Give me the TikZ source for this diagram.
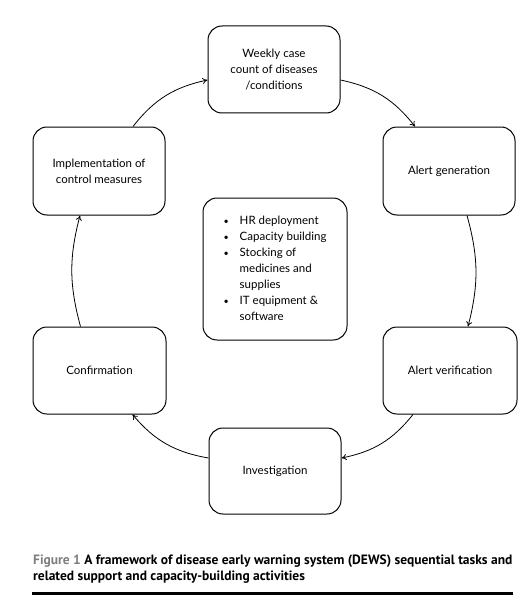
\documentclass[tikz,border=0pt]{standalone}
\usepackage{fontspec}
\setmainfont{Lato}
\newfontfamily\capfont{PT Sans}
\usetikzlibrary{arrows.meta}
\definecolor{figgray}{RGB}{125,125,125}
\begin{document}
\begin{tikzpicture}[x=1pt,y=-1pt,
  box/.style={draw, line width=1pt, rounded corners=14pt, align=center, inner sep=0pt,
    font=\fontsize{11.5}{16}\selectfont},
  link/.style={-{To[length=5pt,width=6pt]}, line width=0.8pt}]
\useasboundingbox (0,0) rectangle (526,599);
\node[box, minimum width=132pt, minimum height=87pt] (w) at (274,69.5) {Weekly case\\count of diseases\\/conditions};
\node[box, minimum width=132pt, minimum height=88pt] (ag) at (449,171) {Alert generation};
\node[box, minimum width=134pt, minimum height=87pt] (av) at (450,370.5) {Alert verification};
\node[box, minimum width=132pt, minimum height=86pt] (inv) at (275,471) {Investigation};
\node[box, minimum width=133pt, minimum height=87pt] (conf) at (99.5,370.5) {Confirmation};
\node[box, minimum width=132pt, minimum height=88pt] (impl) at (99,171) {Implementation of\\control measures};
\node[box, minimum width=144pt, minimum height=142pt, align=left] (c) at (275,269) {%
  \begin{tabular}{@{}l@{\hspace{11pt}}l@{}}
  {\small\textbullet} & HR deployment\\
  {\small\textbullet} & Capacity building\\
  {\small\textbullet} & Stocking of\\
   & medicines and\\
   & supplies\\
  {\small\textbullet} & IT equipment \&\\
   & software
  \end{tabular}};
\draw[link] ([xshift=34pt]impl.north) to[bend left=20] ([yshift=-10.5pt]w.west);
\draw[link] ([yshift=-10.5pt]w.east) to[bend left=20] ([xshift=-34pt]ag.north);
\draw[link] ([xshift=18pt]ag.south) to[bend left=15] ([xshift=18pt]av.north);
\draw[link] ([xshift=-37pt]av.south) to[bend left=20] ([yshift=13pt]inv.east);
\draw[link] ([yshift=13pt]inv.west) to[bend left=20] ([xshift=33pt]conf.south);
\draw[link] ([xshift=-19pt]conf.north) to[bend left=15] ([xshift=-19pt]impl.south);
\node[anchor=north west, inner sep=0pt, align=left, font=\capfont\fontsize{13.5}{16}\selectfont\bfseries] (cap) at (33,555)
  {{\color{figgray}Figure 1} A framework of disease early warning system (DEWS) sequential tasks and\\related support and capacity-building activities};
\draw[line width=3pt] (32,593) -- (513,593);
\end{tikzpicture}
\end{document}
